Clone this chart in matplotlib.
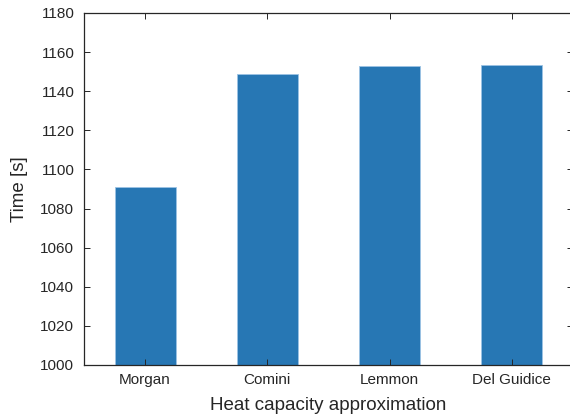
import matplotlib
matplotlib.use('Agg')
import matplotlib.pyplot as plt
import numpy as np

# %% data
methods = ['Morgan', 'Comini', 'Lemmon', 'Del Guidice']
times = [1090.8, 1148.8, 1152.9, 1153.4]

plt.rcParams['font.family'] = ['Liberation Sans', 'DejaVu Sans']

# %% plotting
fig = plt.figure(figsize=(5.7, 4.2), dpi=100)
ax = fig.add_axes([84/570, 55/420, 489/570, 352/420])

x = np.arange(1, len(methods) + 1)
ax.bar(x, times, width=0.5, color='#2777B4', edgecolor='#9cc3e4', linewidth=0.6)

ax.set_xlim(0.5, 4.5)
ax.set_ylim(1000, 1180)
ax.set_yticks(np.arange(1000, 1181, 20))
ax.set_xticks(x)
ax.set_xticklabels(methods)

ax.tick_params(direction='in', top=True, right=True, length=4, width=0.7,
               color='#262626', labelsize=11, labelcolor='#262626')
ax.tick_params(axis='y', pad=7)
ax.tick_params(axis='x', pad=6)
for s in ax.spines.values():
    s.set_linewidth(0.9)
    s.set_color('#262626')

ax.set_xlabel('Heat capacity approximation', fontsize=13.5, color='#262626', labelpad=7)
ax.set_ylabel('Time [s]', fontsize=13.5, color='#262626', labelpad=9)

fig.savefig('out.png', dpi=100)
plt.close()
